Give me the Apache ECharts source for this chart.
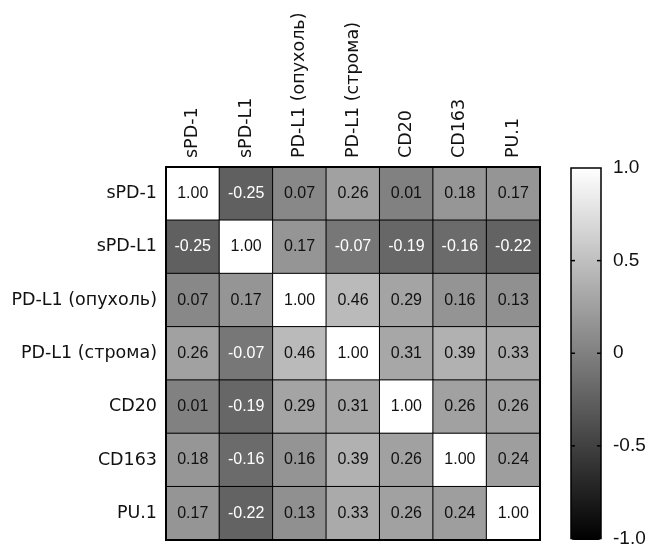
<!DOCTYPE html>
<html><head><meta charset="utf-8">
<script src="https://cdn.jsdelivr.net/npm/echarts@6/dist/echarts.min.js"></script>
<style>html,body{margin:0;padding:0;background:#fff}#c{width:651px;height:548px}</style>
</head><body><div id="c"></div>
<script>
const categories = ['sPD-1','sPD-L1','PD-L1 (опухоль)','PD-L1 (строма)','CD20','CD163','PU.1'];
const matrix = [
  [1.00,-0.25,0.07,0.26,0.01,0.18,0.17],
  [-0.25,1.00,0.17,-0.07,-0.19,-0.16,-0.22],
  [0.07,0.17,1.00,0.46,0.29,0.16,0.13],
  [0.26,-0.07,0.46,1.00,0.31,0.39,0.33],
  [0.01,-0.19,0.29,0.31,1.00,0.26,0.26],
  [0.18,-0.16,0.16,0.39,0.26,1.00,0.24],
  [0.17,-0.22,0.13,0.33,0.26,0.24,1.00]
];
const colorbarTicks = [-1,-0.5,0,0.5,1];
const colorbarLabels = {'-1':'-1.0','-0.5':'-0.5','0':'0','0.5':'0.5','1':'1.0'};

const data = [];
matrix.forEach((row,r)=>row.forEach((v,c)=>{
  data.push({value:[c,r,v],label:{color: v<0?'#fff':'#111'}});
}));

const chart = echarts.init(document.getElementById('c'));
chart.setOption({
  animation:false,
  backgroundColor:'#fff',
  grid:[
    {left:166,top:167,width:374,height:373,show:true,borderColor:'#000',borderWidth:2,backgroundColor:'transparent',z:5},
    {left:571,top:168,width:30,height:372,show:true,borderColor:'#000',borderWidth:1.5,backgroundColor:'transparent',z:10}
  ],
  xAxis:[
    {type:'category',data:categories,position:'top',gridIndex:0,
     axisLine:{show:false},axisTick:{show:false},splitLine:{show:false},
     axisLabel:{rotate:-90,fontFamily:'DejaVu Sans',fontSize:17.5,color:'#111',margin:9}},
    {type:'category',data:['a'],gridIndex:1,show:false}
  ],
  yAxis:[
    {type:'category',data:categories,inverse:true,gridIndex:0,
     axisLine:{show:false},axisTick:{show:false},splitLine:{show:false},
     axisLabel:{fontFamily:'DejaVu Sans',fontSize:17.5,color:'#111',margin:9}},
    {type:'value',gridIndex:1,min:-1,max:1,interval:0.5,position:'right',z:20,
     axisLine:{show:false},
     axisTick:{show:false},
     splitLine:{show:false},
     axisLabel:{fontFamily:'Liberation Sans',fontSize:19,color:'#111',margin:12,
       formatter:v=>colorbarLabels[String(v)]}}
  ],
  visualMap:[{
    type:'continuous',min:-1,max:1,seriesIndex:0,calculable:false,
    inRange:{color:['#000000','#ffffff']},
    orient:'vertical',left:571,top:168,itemWidth:30,itemHeight:372,
    padding:0,text:null,showLabel:false,hoverLink:false,realtime:false
  }],
  series:[
    {type:'heatmap',data:data,xAxisIndex:0,yAxisIndex:0,
     itemStyle:{borderColor:'#000',borderWidth:1},
     label:{show:true,fontFamily:'Liberation Sans',fontSize:16,formatter:p=>p.value[2].toFixed(2)},
     emphasis:{disabled:true}},
    {type:'scatter',xAxisIndex:1,yAxisIndex:1,data:[],silent:true}
  ]
});
const ticks=[];
colorbarTicks.slice(1,-1).forEach(v=>{
  const p=chart.convertToPixel({xAxisIndex:1,yAxisIndex:1},[0,v]);
  ticks.push({type:'line',shape:{x1:571,y1:p[1],x2:575,y2:p[1]},style:{stroke:'#000',lineWidth:1.5},z:20});
  ticks.push({type:'line',shape:{x1:597,y1:p[1],x2:601,y2:p[1]},style:{stroke:'#000',lineWidth:1.5},z:20});
});
chart.setOption({graphic:ticks});
</script></body></html>
